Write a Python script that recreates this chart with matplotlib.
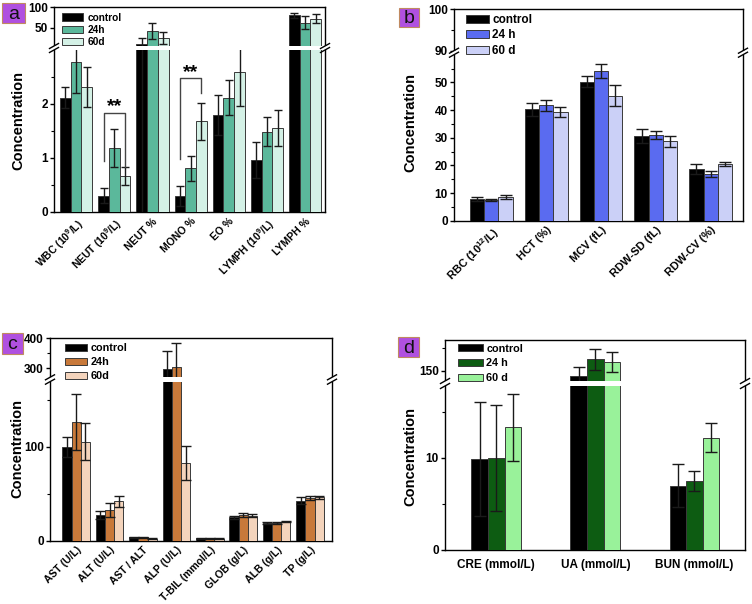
import numpy as np
import matplotlib
matplotlib.use("Agg")
from matplotlib import pyplot as plt
from matplotlib.lines import Line2D
from matplotlib.patches import Rectangle
from matplotlib.transforms import ScaledTranslation

W, H = 752, 604

plt.rcParams["font.family"] = ["Liberation Sans", "DejaVu Sans"]
plt.rcParams["font.weight"] = "bold"
plt.rcParams["mathtext.fontset"] = "custom"
plt.rcParams["mathtext.rm"] = "Liberation Sans:bold"
plt.rcParams["mathtext.default"] = "rm"

# panel a - white blood cells (NEUT % and LYMPH % sit on the upper scale)
a_labels = [r"WBC (10$^{9}$/L)", r"NEUT (10$^{9}$/L)", "NEUT %", "MONO %", "EO %",
            r"LYMPH (10$^{9}$/L)", "LYMPH %"]
a_groups = ["control", "24h", "60d"]
a_control = [2.12, 0.30, 9.8, 0.30, 1.80, 0.96, 79.8]
a_24h = [2.77, 1.18, 41.5, 0.81, 2.12, 1.49, 61.7]
a_60d = [2.32, 0.67, 24.4, 1.68, 2.60, 1.55, 71.5]
a_control_err = [0.19, 0.14, 15.3, 0.18, 0.37, 0.33, 6.3]
a_24h_err = [0.57, 0.35, 18.7, 0.23, 0.32, 0.27, 16.3]
a_60d_err = [0.37, 0.17, 15.4, 0.34, 0.64, 0.33, 10.7]

# panel b - red blood cells
b_labels = [r"RBC (10$^{12}$/L)", "HCT (%)", "MCV (fL)", "RDW-SD (fL)", "RDW-CV (%)"]
b_groups = ["control", "24 h", "60 d"]
b_control = [7.95, 40.3, 50.2, 30.6, 18.6]
b_24h = [7.6, 41.7, 54.1, 30.9, 17.0]
b_60d = [8.7, 39.4, 45.2, 28.7, 20.4]
b_control_err = [0.7, 2.3, 2.0, 2.6, 1.8]
b_24h_err = [0.4, 1.9, 2.4, 1.4, 1.1]
b_60d_err = [0.7, 1.8, 3.7, 1.9, 0.7]

# panel c - liver function
c_labels = ["AST (U/L)", "ALT (U/L)", "AST / ALT", "ALP (U/L)", "T-BIL (mmol/L)",
            "GLOB (g/L)", "ALB (g/L)", "TP (g/L)"]
c_groups = ["control", "24h", "60d"]
c_control = [99.4, 27.0, 3.5, 299, 2.5, 24.9, 18.8, 42.6]
c_24h = [126, 32.3, 3.6, 304, 2.5, 27.3, 18.5, 45.4]
c_60d = [105.3, 41.9, 2.2, 82.7, 2.0, 26.6, 20.2, 46.0]
c_control_err = [10.6, 4.3, 0.5, 58.7, 0.5, 1.5, 1.5, 3.5]
c_24h_err = [30, 7.5, 0.5, 79, 0.5, 1.8, 1.0, 2.0]
c_60d_err = [19.6, 5.7, 0.4, 18.4, 0.4, 1.3, 0.8, 2.0]

# panel d - kidney function
d_labels = ["CRE (mmol/L)", "UA (mmol/L)", "BUN (mmol/L)"]
d_groups = ["control", "24 h", "60 d"]
d_control = [9.9, 148.8, 7.0]
d_24h = [9.95, 152.5, 7.5]
d_60d = [13.3, 151.9, 12.2]
d_control_err = [6.2, 2.1, 2.3]
d_24h_err = [5.75, 2.3, 1.05]
d_60d_err = [3.6, 2.1, 1.6]

fig = plt.figure(figsize=(W / 100, H / 100), dpi=100)


def px_rect(x0, x1, ytop, ybot):
    return [x0 / W, 1 - ybot / H, (x1 - x0) / W, (ybot - ytop) / H]


def break_marks(x, g1, g2):
    # cut the spine and draw the two slanted strokes
    fig.add_artist(Rectangle(((x - 2) / W, 1 - g2 / H), 4 / W, (g2 - g1) / H,
                             transform=fig.transFigure, facecolor="white",
                             edgecolor="none", zorder=10))
    for yc in (g1, g2):
        fig.add_artist(Line2D([(x - 4.5) / W, (x + 4.5) / W],
                              [1 - (yc + 2.5) / H, 1 - (yc - 2.5) / H],
                              transform=fig.transFigure, color="black", lw=1, zorder=11))


def panel_label(letter, x0, x1, ytop, ybot):
    fig.add_artist(Rectangle((x0 / W, 1 - ybot / H), (x1 - x0) / W, (ybot - ytop) / H,
                             transform=fig.transFigure, facecolor="#b050e0",
                             edgecolor="#c08a60", lw=0.8, zorder=12))
    fig.text((x0 + x1) / 2 / W, 1 - (ytop + ybot) / 2 / H - 0.002, letter, ha="center",
             va="center", fontsize=14, fontweight="normal", color="#111111", zorder=13)


def draw_panel(p, series, errors, groups, colors, labels):
    x0, x1 = p["x"]
    up_top, up_bot = p["upper"]
    lo_top, lo_bot = p["lower"]

    frame = fig.add_axes(px_rect(x0, x1, up_top, lo_bot), zorder=0)
    frame.set_xticks([])
    frame.set_yticks([])
    for s in frame.spines.values():
        s.set_linewidth(1.0)

    ax_up = fig.add_axes(px_rect(x0, x1, up_top, up_bot), zorder=1)
    ax_lo = fig.add_axes(px_rect(x0, x1, lo_top, lo_bot), zorder=1)

    n = len(labels)
    pos = np.arange(n)
    w = p["width"]
    split = p["ylim_lo"][1]
    handles = []
    for ax in (ax_up, ax_lo):
        ax.patch.set_visible(False)
        for s in ax.spines.values():
            s.set_visible(False)
        for k, (vals, errs) in enumerate(zip(series, errors)):
            xs = pos + (k - 1) * w
            vals = np.asarray(vals, dtype=float)
            errs = np.asarray(errs, dtype=float)
            if ax is ax_up:
                # only the bars that run through the break show in the upper part
                keep = vals > split
                xs, vals, errs = xs[keep], vals[keep], errs[keep]
            bars = ax.bar(xs, vals, width=w, color=colors[k], edgecolor="#3a3a3a",
                          linewidth=0.7, label=groups[k], zorder=2)
            if len(xs):
                ax.errorbar(xs, vals, yerr=errs, fmt="none", ecolor="#1a1a1a",
                            elinewidth=1, capsize=p["cap"], capthick=1, zorder=3)
            if ax is ax_lo:
                handles.append(bars)
        ax.set_xlim(p["xlim"])
        ax.tick_params(axis="y", direction="out", length=3, width=1, pad=1.5,
                       labelsize=8.5)
        ax.tick_params(axis="y", which="minor", direction="out", length=2, width=0.8)
    ax_up.set_ylim(p["ylim_up"])
    ax_lo.set_ylim(p["ylim_lo"])
    ax_up.set_yticks(p["ticks_up"])
    ax_up.set_yticks(p["minor_up"], minor=True)
    ax_lo.set_yticks(p["ticks_lo"])
    ax_lo.set_yticks(p["minor_lo"], minor=True)
    ax_up.set_xticks([])

    ax_lo.set_xticks(pos)
    if p["rot"]:
        ax_lo.set_xticklabels(labels, rotation=45, ha="right", va="top",
                              rotation_mode="anchor", fontsize=p["xfs"])
        off = ScaledTranslation(p["dx"] / 100, 0, fig.dpi_scale_trans)
        for lbl in ax_lo.get_xticklabels():
            lbl.set_transform(lbl.get_transform() + off)
        ax_lo.tick_params(axis="x", length=0, pad=3)
    else:
        ax_lo.set_xticklabels(labels, fontsize=p["xfs"])
        ax_lo.tick_params(axis="x", length=0, pad=6.5)

    lg = p["legend"]
    ax_up.legend(handles=handles, loc="upper left",
                 bbox_to_anchor=(lg["x"] / W, 1 - lg["y"] / H),
                 bbox_transform=fig.transFigure, frameon=False, borderpad=0,
                 borderaxespad=0, fontsize=lg["fs"], handlelength=lg["hl"],
                 handleheight=lg["hh"], labelspacing=lg["ls"],
                 handletextpad=lg["tp"])

    for xs in (x0, x1):
        break_marks(xs, up_bot, lo_top)

    fig.text(p["ylab"][0] / W, 1 - p["ylab"][1] / H, "Concentration", rotation=90,
             ha="center", va="center", fontsize=10.5)
    return ax_up, ax_lo


panel_a = dict(x=(54, 325), upper=(7, 46), lower=(50, 212), xlim=(-0.58, 6.52),
               width=0.28, cap=3, ylim_up=(5, 100), ylim_lo=(0, 3.0),
               ticks_up=[50, 100], minor_up=[], ticks_lo=[0, 1, 2],
               minor_lo=[0.5, 1.5, 2.5], rot=True, xfs=7.5, dx=6,
               legend=dict(x=61.7, y=12.6, fs=7.3, hl=2.15, hh=0.73, ls=0.23, tp=0.36),
               ylab=(18.5, 120))
panel_b = dict(x=(454, 743), upper=(9.3, 50.7), lower=(54.7, 220.7), xlim=(-0.68, 4.59),
               width=0.26, cap=4.5, ylim_up=(90, 100), ylim_lo=(0, 60),
               ticks_up=[90, 100], minor_up=[95], ticks_lo=[0, 10, 20, 30, 40, 50],
               minor_lo=[5, 15, 25, 35, 45, 55], rot=True, xfs=8, dx=-4,
               legend=dict(x=466, y=13.8, fs=8.5, hl=1.97, hh=0.65, ls=0.31, tp=0.25),
               ylab=(410, 122))
panel_c = dict(x=(50, 332), upper=(338.3, 377.3), lower=(381.7, 540.7),
               xlim=(-0.785, 7.66), width=0.277, cap=3.5, ylim_up=(270, 400),
               ylim_lo=(0, 169), ticks_up=[300, 400], minor_up=[350], ticks_lo=[0, 100],
               minor_lo=[50, 150], rot=True, xfs=7.5, dx=-4,
               legend=dict(x=65, y=343.2, fs=7.8, hl=2.06, hh=0.62, ls=0.36, tp=0.31),
               ylab=(17, 448))
panel_d = dict(x=(445, 745), upper=(340, 381), lower=(386, 550), xlim=(-0.518, 2.51),
               width=0.168, cap=4, ylim_up=(147.8, 156.7), ylim_lo=(0, 17.8),
               ticks_up=[150], minor_up=[155], ticks_lo=[0, 10], minor_lo=[5, 15],
               rot=False, xfs=8.5, dx=0,
               legend=dict(x=457.7, y=343.5, fs=7.8, hl=2.29, hh=0.65, ls=0.45, tp=0.35),
               ylab=(410, 457))

ax_a_up, ax_a_lo = draw_panel(panel_a, [a_control, a_24h, a_60d],
                              [a_control_err, a_24h_err, a_60d_err], a_groups,
                              ["#000000", "#5bb89b", "#d4f1e6"], a_labels)
draw_panel(panel_b, [b_control, b_24h, b_60d], [b_control_err, b_24h_err, b_60d_err],
           b_groups, ["#000000", "#5a6bf0", "#cbd0f7"], b_labels)
draw_panel(panel_c, [c_control, c_24h, c_60d], [c_control_err, c_24h_err, c_60d_err],
           c_groups, ["#000000", "#c8793a", "#f4d4bc"], c_labels)
draw_panel(panel_d, [d_control, d_24h, d_60d], [d_control_err, d_24h_err, d_60d_err],
           d_groups, ["#000000", "#0d5c12", "#99f29a"], d_labels)

# significance brackets in panel a (control vs 60d)
w = panel_a["width"]
for g, top, left_end, right_end in [(1, 1.84, 0.95, 0.84), (3, 2.48, 0.98, 2.20)]:
    ax_a_lo.plot([g - w, g - w, g + w, g + w], [left_end, top, top, right_end],
                 color="#444444", lw=1, zorder=4)
    ax_a_lo.text(g, top + 0.02, "**", ha="center", va="baseline", fontsize=14,
                 zorder=4)

panel_label("a", 1.7, 25, 3, 23)
panel_label("b", 398.7, 419.3, 8, 27)
panel_label("c", 1.7, 22.7, 332.7, 354)
panel_label("d", 397.7, 418.7, 336.7, 357.3)

fig.savefig("out.png", dpi=100, facecolor="white")
